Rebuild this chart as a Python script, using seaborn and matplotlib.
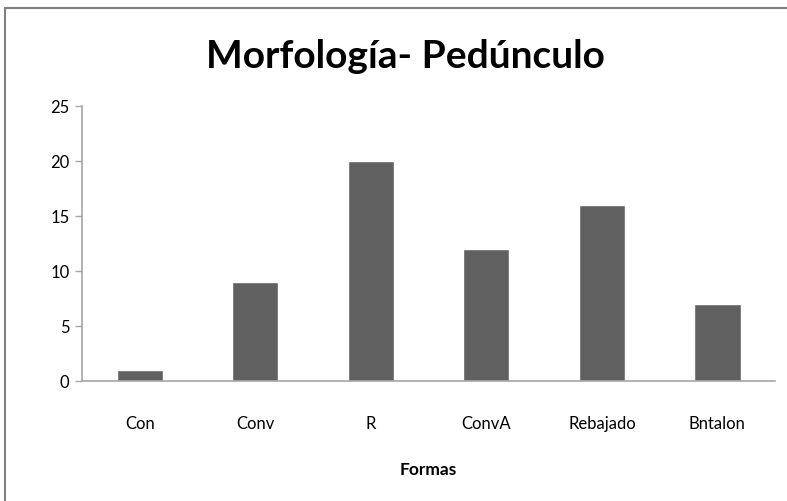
import numpy as np
import pandas as pd
import matplotlib
matplotlib.use('Agg')
import matplotlib.pyplot as plt
import seaborn as sns
from matplotlib.patches import Rectangle

# data
formas = ['Con', 'Conv', 'R', 'ConvA', 'Rebajado', 'Bntalon']
cantidad = [1, 9, 20, 12, 16, 7]
y_ticks = [0, 5, 10, 15, 20, 25]

df = pd.DataFrame({'Formas': formas, 'Cantidad': cantidad})

sns.set_style('white')
plt.rcParams['font.family'] = ['Lato', 'DejaVu Sans']
plt.rcParams['text.color'] = 'black'
plt.rcParams['axes.labelcolor'] = 'black'

fig = plt.figure(figsize=(7.87, 5.01), dpi=100)
ax = fig.add_axes([0.1042, 0.2395, 0.8808, 0.5485])

sns.barplot(data=df, x='Formas', y='Cantidad', color='#606060',
            width=0.4, saturation=1, ax=ax)

axis_col = '#a6a6a6'
ax.set_xlim(-0.5, len(formas) - 0.5)
ax.set_ylim(0, 25)
ax.set_yticks(y_ticks)
ax.set_yticklabels([str(v) for v in y_ticks], fontsize=12, color='black')

# category labels without ticks, boundary ticks as minor ticks
ax.set_xticks(range(len(formas)))
ax.set_xticklabels(formas, fontsize=12, color='black')
ax.set_xticks(np.arange(-0.5, len(formas), 1), minor=True)
ax.tick_params(axis='x', which='major', length=0, pad=25)
ax.tick_params(axis='x', which='minor', length=7, width=1, color=axis_col,
               direction='out')
ax.tick_params(axis='y', length=5, width=1, color=axis_col, direction='out',
               pad=4, left=True)

for s in ['top', 'right']:
    ax.spines[s].set_visible(False)
for s in ['left', 'bottom']:
    ax.spines[s].set_color(axis_col)
    ax.spines[s].set_linewidth(1.2)

ax.set_ylabel('')
ax.set_xlabel('Formas', fontsize=12.5, fontweight='bold', labelpad=22)

fig.text(0.515, 0.888, 'Morfología- Pedúnculo', ha='center', va='center',
         fontsize=28, fontweight='bold', color='black')

# chart border
fig.patches.append(Rectangle((0.0064, -0.05), 1.1, 1.034,
                             transform=fig.transFigure, fill=False,
                             edgecolor='#808080', linewidth=1.5))

fig.savefig('out.png', dpi=100)
